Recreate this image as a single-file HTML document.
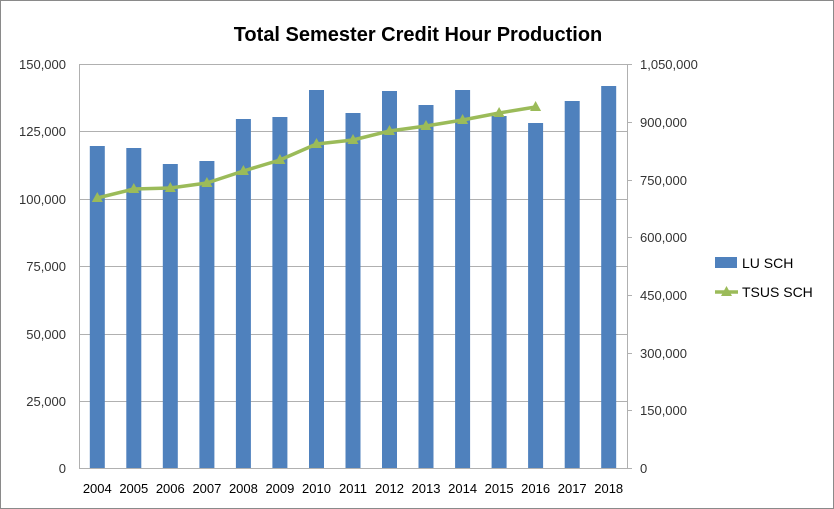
<!DOCTYPE html>
<html><head><style>body{margin:0;background:#fff}svg{display:block;font-family:"Liberation Sans",sans-serif}</style></head>
<body>
<svg width="834" height="509" viewBox="0 0 834 509">
<rect x="0.5" y="0.5" width="833" height="508" fill="#fff" stroke="#8a8a8a"/>
<text x="418" y="41" font-size="20" font-weight="bold" text-anchor="middle" fill="#000">Total Semester Credit Hour Production</text>
<g stroke="#b0b0b0" stroke-width="1">
<line x1="79" y1="64.5" x2="627" y2="64.5"/><line x1="79" y1="131.5" x2="627" y2="131.5"/>
<line x1="79" y1="199.5" x2="627" y2="199.5"/><line x1="79" y1="266.5" x2="627" y2="266.5"/>
<line x1="79" y1="334.5" x2="627" y2="334.5"/><line x1="79" y1="401.5" x2="627" y2="401.5"/>
<line x1="79" y1="468.5" x2="627" y2="468.5"/>
<line x1="79.5" y1="64" x2="79.5" y2="468"/><line x1="627.5" y1="64" x2="627.5" y2="468"/>
<line x1="627" y1="64.5" x2="632" y2="64.5"/><line x1="627" y1="122.5" x2="632" y2="122.5"/>
<line x1="627" y1="180.5" x2="632" y2="180.5"/><line x1="627" y1="237.5" x2="632" y2="237.5"/>
<line x1="627" y1="295.5" x2="632" y2="295.5"/><line x1="627" y1="353.5" x2="632" y2="353.5"/>
<line x1="627" y1="410.5" x2="632" y2="410.5"/><line x1="627" y1="468.5" x2="632" y2="468.5"/>
</g>
<g font-size="13" fill="#333" text-anchor="end">
<text x="66" y="69">150,000</text><text x="66" y="136">125,000</text><text x="66" y="204">100,000</text>
<text x="66" y="271">75,000</text><text x="66" y="339">50,000</text><text x="66" y="406">25,000</text><text x="66" y="473">0</text>
</g>
<g font-size="13" fill="#333">
<text x="640" y="69">1,050,000</text><text x="640" y="127">900,000</text><text x="640" y="185">750,000</text>
<text x="640" y="242">600,000</text><text x="640" y="300">450,000</text><text x="640" y="358">300,000</text>
<text x="640" y="415">150,000</text><text x="640" y="473">0</text>
</g>
<g fill="#4f81bd">
<rect x="89.8" y="146" width="15" height="322"/>
<rect x="126.3" y="148" width="15" height="320"/>
<rect x="162.8" y="164" width="15" height="304"/>
<rect x="199.4" y="161" width="15" height="307"/>
<rect x="235.9" y="119" width="15" height="349"/>
<rect x="272.4" y="117" width="15" height="351"/>
<rect x="309.0" y="90" width="15" height="378"/>
<rect x="345.5" y="113" width="15" height="355"/>
<rect x="382.0" y="91" width="15" height="377"/>
<rect x="418.5" y="105" width="15" height="363"/>
<rect x="455.1" y="90" width="15" height="378"/>
<rect x="491.6" y="116" width="15" height="352"/>
<rect x="528.1" y="123" width="15" height="345"/>
<rect x="564.7" y="101" width="15" height="367"/>
<rect x="601.2" y="86" width="15" height="382"/>
</g>
<g font-size="13" fill="#000" text-anchor="middle">
<text x="97.3" y="493">2004</text><text x="133.8" y="493">2005</text><text x="170.3" y="493">2006</text>
<text x="206.9" y="493">2007</text><text x="243.4" y="493">2008</text><text x="279.9" y="493">2009</text>
<text x="316.5" y="493">2010</text><text x="353.0" y="493">2011</text><text x="389.5" y="493">2012</text>
<text x="426.0" y="493">2013</text><text x="462.6" y="493">2014</text><text x="499.1" y="493">2015</text>
<text x="535.6" y="493">2016</text><text x="572.2" y="493">2017</text><text x="608.7" y="493">2018</text>
</g>
<polyline fill="none" stroke="#9bbb59" stroke-width="3.5" stroke-linejoin="round" points="97.3,198 133.8,189 170.3,188 206.9,183 243.4,171 279.9,160 316.5,144 353.0,140 389.5,131 426.0,126 462.6,120 499.1,113 535.6,107"/>
<g fill="#9bbb59">
<polygon points="97.3,192 102.8,202 91.8,202"/>
<polygon points="133.8,183 139.3,193 128.3,193"/>
<polygon points="170.3,182 175.8,192 164.8,192"/>
<polygon points="206.9,177 212.4,187 201.4,187"/>
<polygon points="243.4,165 248.9,175 237.9,175"/>
<polygon points="279.9,154 285.4,164 274.4,164"/>
<polygon points="316.5,138 322,148 311,148"/>
<polygon points="353.0,134 358.5,144 347.5,144"/>
<polygon points="389.5,125 395,135 384,135"/>
<polygon points="426.0,120 431.5,130 420.5,130"/>
<polygon points="462.6,114 468.1,124 457.1,124"/>
<polygon points="499.1,107 504.6,117 493.6,117"/>
<polygon points="535.6,101 541.1,111 530.1,111"/>
</g>
<rect x="715" y="257" width="22" height="11" fill="#4f81bd"/>
<text x="742" y="268" font-size="14" fill="#000">LU SCH</text>
<line x1="715" y1="292" x2="738" y2="292" stroke="#9bbb59" stroke-width="3.5"/>
<polygon points="726.5,286 732,296 721,296" fill="#9bbb59"/>
<text x="742" y="297" font-size="14" fill="#000">TSUS SCH</text>
</svg>
</body></html>
